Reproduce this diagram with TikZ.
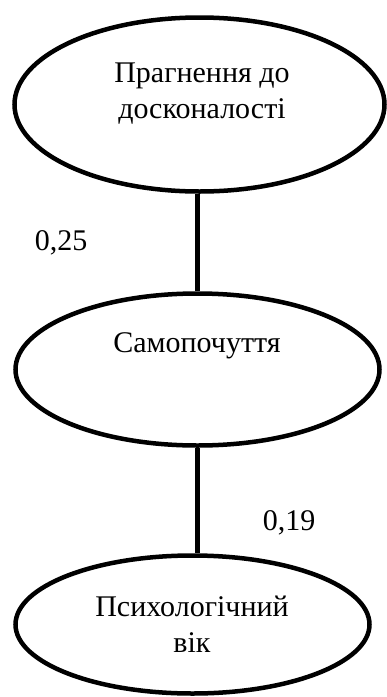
\documentclass[tikz,border=0pt]{standalone}
\usepackage{fontspec}
\setmainfont{Liberation Serif}
\usetikzlibrary{shapes.geometric}

\begin{document}
\begin{tikzpicture}[x=1pt,y=-1pt,
        oval/.style={ellipse,draw,line width=4.5pt,inner sep=0pt},
        txt/.style={align=center,font=\fontsize{30}{36}\selectfont,inner sep=0pt},
        link/.style={line width=5pt}]
            \useasboundingbox (0,0) rectangle (387,697);

            \coordinate (T) at (199.5,104.5);
            \coordinate (S) at (197.5,369.5);
            \coordinate (P) at (192.5,624.5);

            \node[oval,minimum width=370pt,minimum height=174pt] (top) at (T) {};
            \node[oval,minimum width=364pt,minimum height=152pt] (mid) at (S) {};
            \node[oval,minimum width=354pt,minimum height=138pt] (bot) at (P) {};

            \node[txt] (toptext) at (202,94) {Прагнення до\\досконалості};
            \node[txt] (midtext) at (197,346) {Самопочуття};
            \node[txt] (bottext) at (192,624) {Психологічний\\вік};

            \draw[link] (mid.north |- top.south)--(mid.north);
            \draw[link] (mid.south)--(mid.south |- bot.north);

            \node[txt] (r1) at (61,243) {0,25};
            \node[txt] (r2) at (289,523) {0,19};
        \end{tikzpicture}
\end{document}
